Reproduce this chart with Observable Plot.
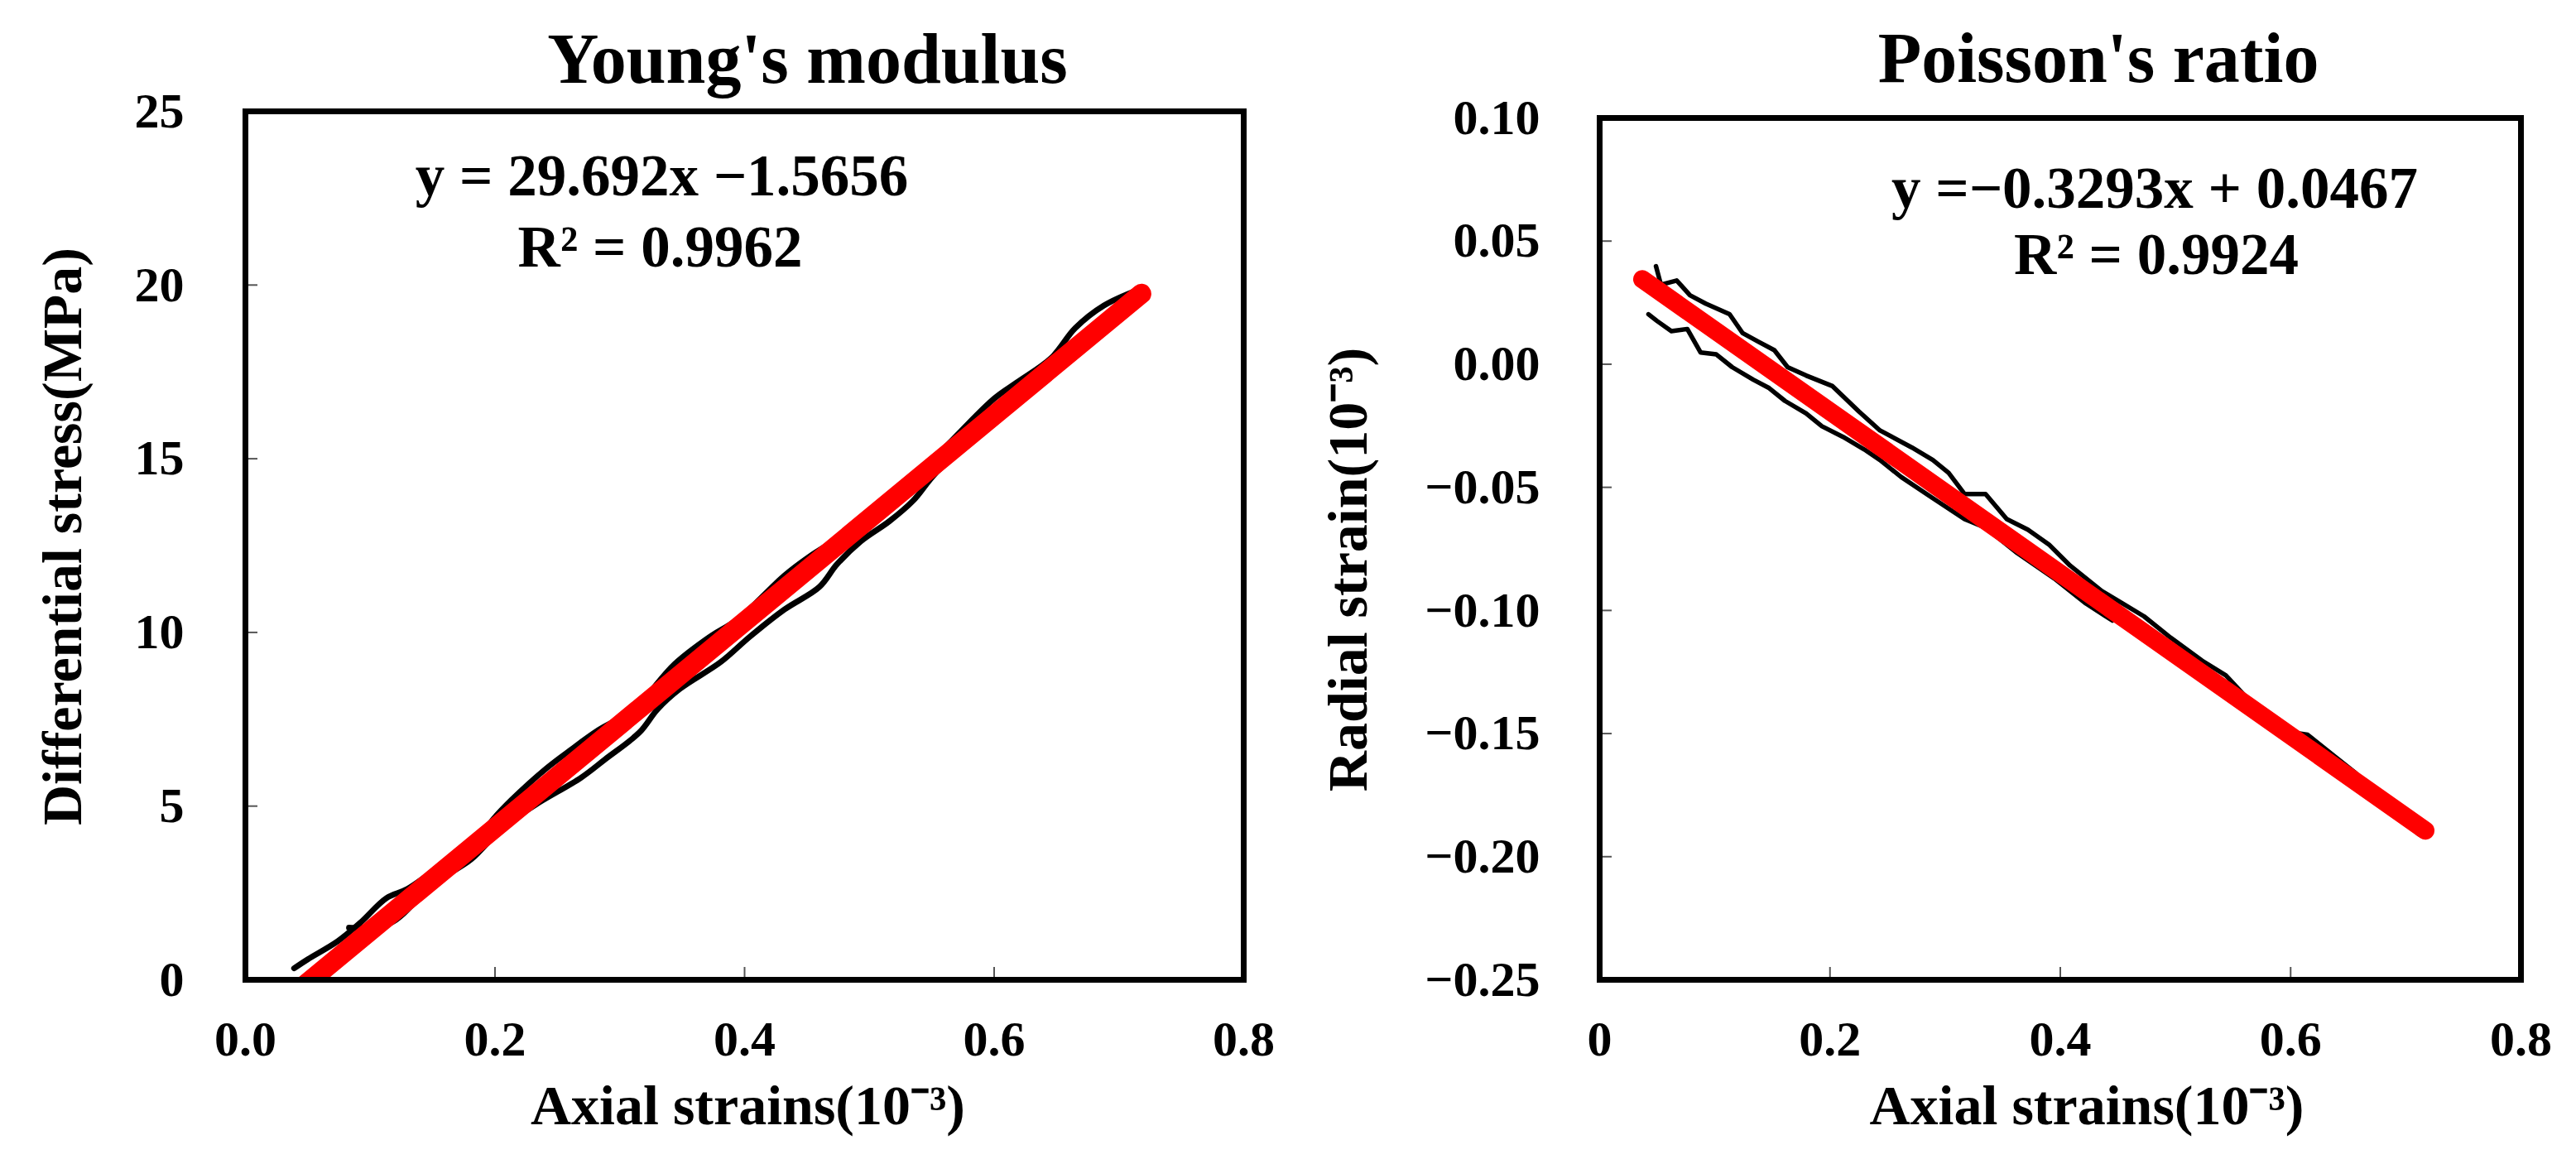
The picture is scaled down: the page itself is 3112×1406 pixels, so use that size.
<!DOCTYPE html>
<html><head><meta charset="utf-8">
<script src="https://cdn.jsdelivr.net/npm/d3@7"></script>
<script src="https://cdn.jsdelivr.net/npm/@observablehq/plot@0.6"></script>
<style>
html,body{margin:0;padding:0;background:#fff;}
#wrap{position:relative;width:3112px;height:1406px;overflow:hidden;background:#fff;}
#left{position:absolute;left:0;top:0;}
#right{position:absolute;left:1556px;top:0;}
svg text{font-family:"Liberation Serif","Times New Roman",serif;font-weight:bold;}
</style></head><body><div id="wrap"><div id="left"></div><div id="right"></div></div>
<script>
// ---------- data ----------
const titleLeft = "Young's modulus";
const titleRight = "Poisson's ratio";
const eqLeft = "y = 29.692x \u22121.5656";
const r2Left = "R\u00B2 = 0.9962";
const eqRight = "y =\u22120.3293x + 0.0467";
const r2Right = "R\u00B2 = 0.9924";
const xTitle = "Axial strains(10\u207B\u00B3)";
const yTitleLeft = "Differential stress(MPa)";
const yTitleRight = "Radial strain(10\u207B\u00B3)";

const xTicks = [0, 0.2, 0.4, 0.6, 0.8];
const xInnerTicks = [0.2, 0.4, 0.6];
const youngYTicks = [0, 5, 10, 15, 20, 25];
const youngYInnerTicks = [5, 10, 15, 20];
const poissonYTicks = [-0.25, -0.20, -0.15, -0.10, -0.05, 0.00, 0.05, 0.10];
const poissonYInnerTicks = [-0.20, -0.15, -0.10, -0.05, 0.00, 0.05];

// Young's modulus: measured curves (axial strain, differential stress)
const youngAx = [0.039,0.050,0.074,0.092,0.113,0.130,0.158,0.185,0.199,0.213,0.241,0.260,0.283,0.311,0.344,0.372,0.395,0.432,0.451,0.488,0.520,0.558,0.600,0.618,0.646,0.665,0.688,0.716];
const youngAy = [0.33,0.59,1.11,1.64,2.35,2.62,3.33,3.99,4.64,5.17,6.08,6.60,7.19,7.78,9.09,9.87,10.39,11.64,12.16,13.01,13.90,15.23,16.73,17.19,17.91,18.76,19.41,19.87];
const youngBx = [0.083,0.116,0.150,0.181,0.205,0.232,0.269,0.288,0.316,0.330,0.348,0.381,0.404,0.432,0.460,0.474,0.493,0.516,0.535,0.553,0.586,0.610];
const youngBy = [1.50,1.63,2.75,3.47,4.35,5.03,5.82,6.34,7.13,7.78,8.37,9.15,9.87,10.66,11.31,11.96,12.62,13.20,13.79,14.58,15.62,16.45];
// fitted line end points
const youngFitX = [0.048, 0.718];
const youngFitY = [-0.14, 19.75];

// Poisson's ratio: measured curves (axial strain, radial strain)
const poissonAx = [0.0489,0.0532,0.0669,0.0784,0.0921,0.1128,0.1242,0.1380,0.1517,0.1632,0.1793,0.2022,0.2251,0.2434,0.2710,0.2893,0.3030,0.3168,0.3351,0.3535,0.3718,0.3901,0.4085,0.4360,0.4543,0.4727,0.4956,0.5231,0.5438,0.5644,0.5896,0.6148,0.6378,0.6561,0.6836,0.7111];
const poissonAy = [0.0398,0.0323,0.0340,0.0280,0.0246,0.0203,0.0126,0.0091,0.0057,-0.0012,-0.0046,-0.0089,-0.0192,-0.0269,-0.0338,-0.0389,-0.0441,-0.0527,-0.0527,-0.0629,-0.0672,-0.0732,-0.0818,-0.0921,-0.0972,-0.1024,-0.1110,-0.1204,-0.1264,-0.1367,-0.1487,-0.1505,-0.1591,-0.1659,-0.1796,-0.1908];
const poissonBx = [0.0424,0.0500,0.0623,0.0761,0.0876,0.1013,0.1151,0.1334,0.1472,0.1609,0.1793,0.1930,0.2113,0.2297,0.2434,0.2618,0.2893,0.3168,0.3351,0.3626,0.3947,0.4223,0.4452];
const poissonBy = [0.0203,0.0175,0.0134,0.0143,0.0048,0.0040,-0.0012,-0.0063,-0.0097,-0.0149,-0.0200,-0.0252,-0.0295,-0.0346,-0.0389,-0.0458,-0.0544,-0.0629,-0.0664,-0.0767,-0.0870,-0.0972,-0.1041];
const poissonFitX = [0.037, 0.717];
const poissonFitY = [0.0345, -0.1894];

// ---------- helpers ----------
const FONT = '"Liberation Serif", "Times New Roman", serif';
const zip = (xs, ys) => xs.map((x, i) => ({x, y: ys[i]}));

function panel(o) {
  const W = 1556, H = 1406;
  const innerW = W - o.ml - o.mr, innerH = H - o.mt - o.mb;
  const txt = (s, opts) => Plot.text([s], {text: d => d, fontFamily: FONT, fontWeight: "bold", fill: "black", textAnchor: "middle", ...opts});
  return Plot.plot({
    width: W, height: H,
    marginLeft: o.ml, marginRight: o.mr, marginTop: o.mt, marginBottom: o.mb,
    style: {fontFamily: FONT, fontWeight: "bold", background: "white", color: "black", overflow: "visible"},
    x: {domain: [0, 0.8]},
    y: {domain: o.yDomain},
    marks: [
      Plot.tickY(o.yInner, {y: d => d, insetRight: innerW - 15, stroke: "#555", strokeWidth: 2}),
      Plot.tickX(xInnerTicks, {x: d => d, insetTop: innerH - 15, stroke: "#555", strokeWidth: 2}),
      ...o.curves.map(c => Plot.line(c, {x: "x", y: "y", stroke: "black", strokeWidth: o.blackW, curve: o.curve, strokeLinejoin: "round", strokeLinecap: "round"})),
      Plot.line(o.fit, {x: "x", y: "y", stroke: "#ff0000", strokeWidth: o.redW, strokeLinecap: "round", clip: true}),
      Plot.frame({stroke: "black", strokeWidth: 7}),
      Plot.axisY({ticks: o.yTicks, tickSize: 0, tickPadding: o.yPad, fontSize: 60, label: null, tickFormat: o.yFmt}),
      Plot.axisX({ticks: xTicks, tickSize: 0, tickPadding: 49, fontSize: 60, label: null, tickFormat: o.xFmt}),
      txt(o.title, {frameAnchor: "top", dx: o.titleDx, dy: o.titleDy, lineAnchor: "bottom", fontSize: 86}),
      txt(o.eq, {frameAnchor: "top", dx: o.eqDx, dy: o.eqDy, lineAnchor: "bottom", fontSize: 71}),
      txt(o.r2, {frameAnchor: "top", dx: o.r2Dx, dy: o.r2Dy, lineAnchor: "bottom", fontSize: 71}),
      txt(xTitle, {frameAnchor: "bottom", dx: o.xtDx, dy: 174, lineAnchor: "bottom", fontSize: 68}),
      txt(o.yTitle, {frameAnchor: "left", dx: o.ytDx, dy: o.ytDy, rotate: -90, lineAnchor: "bottom", fontSize: 68})
    ]
  });
}

document.getElementById("left").append(panel({
  ml: 296, mr: 54, mt: 134, mb: 223,
  yDomain: [0, 25], yTicks: youngYTicks, yInner: youngYInnerTicks, yPad: 74,
  yFmt: d => String(d), xFmt: d3.format(".1f"),
  curves: [zip(youngAx, youngAy), zip(youngBx, youngBy)],
  fit: zip(youngFitX, youngFitY),
  blackW: 7, redW: 24, curve: "catmull-rom",
  title: titleLeft, titleDx: 76, titleDy: -35,
  eq: eqLeft, eqDx: -100, eqDy: 101,
  r2: r2Left, r2Dx: -102, r2Dy: 187,
  xtDx: 4, yTitle: yTitleLeft, ytDx: -199, ytDy: -11
}));

document.getElementById("right").append(panel({
  ml: 376, mr: 67, mt: 142, mb: 223,
  yDomain: [-0.25, 0.10], yTicks: poissonYTicks, yInner: poissonYInnerTicks, yPad: 72,
  yFmt: d3.format(".2f"), xFmt: d => d === 0 ? "0" : d.toFixed(1),
  curves: [zip(poissonAx, poissonAy), zip(poissonBx, poissonBy)],
  fit: zip(poissonFitX, poissonFitY),
  blackW: 5.5, redW: 22, curve: "linear",
  title: titleRight, titleDx: 46, titleDy: -44,
  eq: eqRight, eqDx: 114, eqDy: 108,
  r2: r2Right, r2Dx: 116, r2Dy: 188,
  xtDx: 32, yTitle: yTitleRight, ytDx: -282, ytDy: 25
}));
</script></body></html>
